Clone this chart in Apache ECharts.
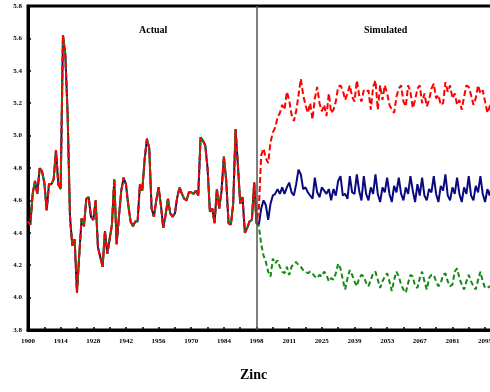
<!DOCTYPE html>
<html>
<head>
<meta charset="utf-8">
<script src="https://cdn.jsdelivr.net/npm/echarts@6/dist/echarts.min.js"></script>
<style>
  html, body { margin: 0; padding: 0; background: #ffffff; }
  #chart { width: 490px; height: 392px; }
</style>
</head>
<body>
<div id="chart"></div>
<script>
// Observed log price series, 1900-1998 (one value per year)
const actual = [
  4.47, 4.45, 4.64, 4.72, 4.64, 4.80, 4.78, 4.71, 4.54, 4.70,
  4.70, 4.73, 4.91, 4.70, 4.67, 5.62, 5.50, 5.13, 4.50, 4.32,
  4.36, 4.03, 4.27, 4.49, 4.44, 4.61, 4.62, 4.50, 4.48, 4.60,
  4.31, 4.25, 4.19, 4.41, 4.27, 4.36, 4.45, 4.73, 4.33, 4.50,
  4.66, 4.74, 4.70, 4.57, 4.47, 4.44, 4.47, 4.47, 4.70, 4.66,
  4.85, 4.98, 4.92, 4.55, 4.50, 4.60, 4.68, 4.57, 4.43, 4.51,
  4.61, 4.52, 4.50, 4.52, 4.62, 4.68, 4.64, 4.61, 4.60, 4.65,
  4.65, 4.64, 4.66, 4.63, 4.99, 4.97, 4.94, 4.80, 4.53, 4.55,
  4.46, 4.67, 4.55, 4.66, 4.87, 4.72, 4.46, 4.45, 4.58, 5.04,
  4.82, 4.58, 4.62, 4.40, 4.43, 4.47, 4.48, 4.71, 4.46
];

// Simulated paths after 1998
const simMiddle = [
  4.45, 4.55, 4.60, 4.57, 4.48, 4.58, 4.63, 4.64, 4.67, 4.64,
  4.68, 4.64, 4.68, 4.71, 4.65, 4.63, 4.70, 4.79, 4.76, 4.67,
  4.68, 4.65, 4.63, 4.61, 4.74, 4.65, 4.62, 4.68, 4.66, 4.64,
  4.67, 4.60, 4.67, 4.63, 4.72, 4.75, 4.63, 4.64, 4.61, 4.75,
  4.65, 4.64, 4.76, 4.66, 4.60, 4.75, 4.64, 4.60, 4.68, 4.64,
  4.76, 4.64, 4.59, 4.68, 4.65, 4.74, 4.64, 4.59, 4.69, 4.65,
  4.74, 4.64, 4.60, 4.68, 4.64, 4.75, 4.66, 4.59, 4.70, 4.63,
  4.74, 4.63, 4.60, 4.67, 4.65, 4.75, 4.64, 4.59, 4.69, 4.66,
  4.76, 4.63, 4.60, 4.68, 4.64, 4.74, 4.64, 4.59, 4.68, 4.64,
  4.75, 4.63, 4.60, 4.69, 4.65, 4.75, 4.64, 4.59, 4.67, 4.63,
  4.70
];
const simUpper = [
  4.55, 4.88, 4.92, 4.86, 4.83, 4.96, 5.02, 5.05, 5.11, 5.14,
  5.19, 5.16, 5.27, 5.22, 5.13, 5.09, 5.15, 5.25, 5.35, 5.25,
  5.19, 5.14, 5.20, 5.10, 5.23, 5.30, 5.20, 5.15, 5.19, 5.12,
  5.26, 5.14, 5.16, 5.21, 5.30, 5.31, 5.28, 5.22, 5.26, 5.31,
  5.24, 5.21, 5.34, 5.25, 5.21, 5.28, 5.27, 5.28, 5.16, 5.30,
  5.34, 5.16, 5.31, 5.22, 5.31, 5.26, 5.19, 5.16, 5.14, 5.24,
  5.29, 5.31, 5.21, 5.18, 5.31, 5.27, 5.17, 5.22, 5.29, 5.31,
  5.20, 5.26, 5.18, 5.22, 5.29, 5.32, 5.23, 5.25, 5.19, 5.20,
  5.33, 5.27, 5.31, 5.23, 5.26, 5.19, 5.22, 5.16, 5.24, 5.31,
  5.30, 5.25, 5.19, 5.23, 5.31, 5.26, 5.28, 5.21, 5.14, 5.18,
  5.22
];
const simLower = [
  4.44, 4.33, 4.26, 4.22, 4.16, 4.13, 4.24, 4.21, 4.23, 4.19,
  4.16, 4.15, 4.19, 4.14, 4.19, 4.21, 4.22, 4.20, 4.19, 4.17,
  4.16, 4.15, 4.16, 4.15, 4.13, 4.12, 4.14, 4.13, 4.16, 4.14,
  4.10, 4.12, 4.11, 4.15, 4.21, 4.18, 4.11, 4.05, 4.12, 4.17,
  4.14, 4.10, 4.07, 4.12, 4.14, 4.13, 4.09, 4.07, 4.11, 4.15,
  4.16, 4.11, 4.06, 4.10, 4.13, 4.15, 4.10, 4.04, 4.11, 4.16,
  4.13, 4.08, 4.05, 4.03, 4.09, 4.14, 4.13, 4.07, 4.06, 4.12,
  4.16, 4.10, 4.05, 4.12, 4.14, 4.14, 4.10, 4.07, 4.09, 4.14,
  4.15, 4.10, 4.07, 4.08, 4.16, 4.18, 4.12, 4.08, 4.05, 4.10,
  4.14, 4.10, 4.07, 4.05, 4.11, 4.16, 4.10, 4.06, 4.06, 4.07,
  4.06
];

// Axis labels, one per 14 observations
const xTickLabels = ['1900', '1914', '1928', '1942', '1956', '1970', '1984', '1998',
                     '2011', '2025', '2039', '2053', '2067', '2081', '2095'];
const splitIndex = 98;   // last observed year (1998)

function toPairs(values, start) {
  return values.map((v, i) => [start + i, v]);
}
const blueData = toPairs(actual.concat(simMiddle), 0);
const redData = toPairs(actual.concat(simUpper), 0);
const greenData = toPairs(actual.concat(simLower), 0);

const FONT = '"Liberation Serif", "Times New Roman", serif';

const chart = echarts.init(document.getElementById('chart'), null, { renderer: 'canvas' });
chart.setOption({
  animation: false,
  backgroundColor: '#ffffff',
  grid: {
    left: 28, top: 6, width: 466.4, height: 324,
    outerBoundsMode: 'none', containLabel: false,
    show: true, borderColor: '#000000', borderWidth: 3, backgroundColor: 'transparent'
  },
  xAxis: {
    type: 'value', min: 0, max: 200, interval: 14,
    axisLine: { show: true, lineStyle: { color: '#000', width: 3 } },
    axisTick: { show: true, inside: true, length: 3, lineStyle: { color: '#000', width: 1.5 } },
    minorTick: { show: true, splitNumber: 2, length: 3, lineStyle: { color: '#000', width: 1.5 } },
    splitLine: { show: false },
    axisLabel: {
      margin: 8, fontFamily: FONT, fontWeight: 'bold', fontSize: 7, color: '#000',
      showMaxLabel: false, hideOverlap: false,
      formatter: v => { const k = Math.round(v / 14); return (k * 14 === v && xTickLabels[k]) ? xTickLabels[k] : ''; }
    }
  },
  yAxis: {
    type: 'value', min: 3.8, max: 5.8, interval: 0.2,
    axisLine: { show: true, lineStyle: { color: '#000', width: 3 } },
    axisTick: { show: true, inside: true, length: 3, lineStyle: { color: '#000', width: 1.5 } },
    minorTick: { show: true, splitNumber: 5, length: 2, lineStyle: { color: '#000', width: 1.2 } },
    splitLine: { show: false },
    axisLabel: {
      margin: 6, fontFamily: FONT, fontWeight: 'bold', fontSize: 7, color: '#000',
      formatter: v => v.toFixed(1)
    }
  },
  graphic: [
    { type: 'text', left: 139, top: 25, style: { text: 'Actual', font: 'bold 10px ' + FONT, fill: '#000' } },
    { type: 'text', left: 364, top: 25, style: { text: 'Simulated', font: 'bold 10px ' + FONT, fill: '#000' } },
    { type: 'text', left: 240, top: 368, style: { text: 'Zinc', font: 'bold 14px ' + FONT, fill: '#000' } }
  ],
  series: [
    {
      name: 'Middle', type: 'line', data: blueData, showSymbol: false,
      lineStyle: { color: '#0a0a80', width: 2 },
      markLine: {
        silent: true, symbol: 'none', label: { show: false },
        lineStyle: { color: '#555555', width: 1.5, type: 'solid' },
        data: [{ xAxis: splitIndex }]
      }
    },
    {
      name: 'Lower', type: 'line', data: greenData, showSymbol: false,
      lineStyle: { color: '#138a13', width: 2, type: [5, 3] }
    },
    {
      name: 'Upper', type: 'line', data: redData, showSymbol: false,
      lineStyle: { color: '#ff0000', width: 2, type: [6, 3] }
    }
  ]
});
</script>
</body>
</html>
